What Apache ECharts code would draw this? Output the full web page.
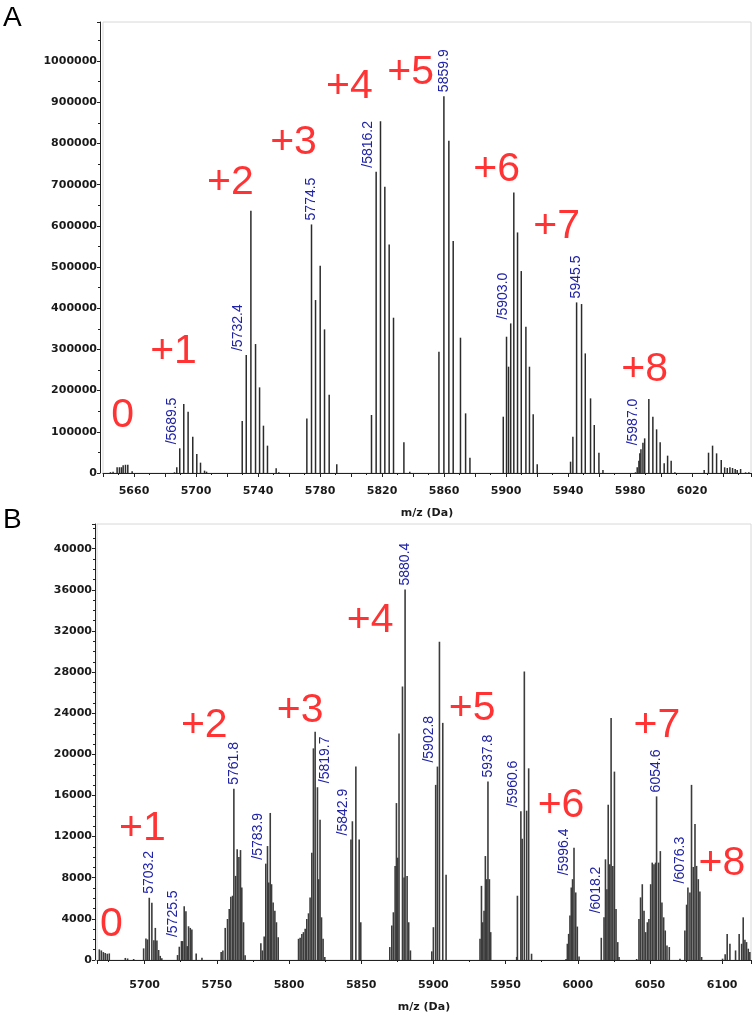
<!DOCTYPE html>
<html>
<head>
<meta charset="utf-8">
<script src="https://cdn.jsdelivr.net/npm/echarts@6/dist/echarts.min.js"></script>
<style>
  html, body { margin: 0; padding: 0; background: #fff; }
  #chart { width: 755px; height: 1014px; }
</style>
</head>
<body>
<div id="chart"></div>
<script>
// ---- panel A: stick spectrum (m/z, intensity) ----
const mzA = [
  5644.8, 5646.5, 5649.1, 5650.6, 5651.9, 5653.0, 5654.5, 5656.0, 5658.8,
  5686.1, 5687.6, 5689.5, 5692.1, 5694.9, 5697.9, 5700.5, 5702.9, 5705.5, 5706.8,
  5729.8, 5732.4, 5735.4, 5738.4, 5741.0, 5743.5, 5746.1, 5751.7, 5753.4,
  5771.5, 5774.5, 5777.1, 5780.1, 5782.9, 5785.9, 5790.8,
  5813.2, 5816.2, 5819.0, 5821.8, 5824.6, 5827.4, 5834.1, 5837.9,
  5856.7, 5859.9, 5863.1, 5865.9, 5870.6, 5873.9, 5876.7,
  5898.2, 5900.3, 5901.6, 5903.0, 5905.0, 5907.4, 5909.8, 5912.8, 5915.1, 5917.5, 5920.1,
  5941.6, 5943.1, 5945.5, 5948.7, 5951.1, 5954.5, 5956.9, 5959.9, 5962.5,
  5983.5, 5984.6, 5985.7, 5986.3, 5987.0, 5988.3, 5989.4, 5992.1, 5994.7, 5997.1, 5999.4, 6002.0, 6004.2, 6006.5, 6008.9,
  6027.8, 6030.6, 6033.2, 6035.8, 6038.8, 6041.0, 6042.7, 6044.4, 6046.1, 6047.8, 6049.1, 6051.3, 6054.5, 6056.6
];
const intA = [
  2000, 3000, 14000, 14000, 14000, 19000, 20000, 20000, 4000,
  1700, 13800, 59900, 167500, 148900, 88200, 46100, 25100, 5700, 3200,
  126200, 286400, 636700, 313100, 207900, 114900, 66400, 11300, 1600,
  132600, 603500, 419900, 503200, 348700, 190100, 21000,
  140800, 731400, 854300, 695000, 555000, 377000, 74400, 3200,
  294500, 915000, 806600, 563100, 328500, 144800, 37200,
  136700, 330900, 258100, 363200, 681200, 584100, 490300, 355200, 258100, 142400, 21000,
  27500, 88200, 414200, 410200, 290400, 181200, 116500, 49300, 7300,
  1700, 13800, 29900, 47700, 57400, 73600, 84100, 179600, 136700, 106000, 74400, 23500, 42100, 29900, 1700,
  7300, 49300, 66400, 47700, 31500, 13800, 12100, 13800, 12100, 9700, 7300, 9700, 1600, 1600
];
const peakMzA = [5689.5, 5732.4, 5774.5, 5816.2, 5859.9, 5903.0, 5945.5, 5987.0];
const leaderA = [-1, -1, 0, -1, 0, -1, 0, -1];
const chargeTextA = ['0', '+1', '+2', '+3', '+4', '+5', '+6', '+7', '+8'];
const chargeMzA = [5652.6, 5685.5, 5722.2, 5762.9, 5799.0, 5838.4, 5893.9, 5932.6, 5989.4];
const chargeIntA = [138300, 293700, 703800, 800900, 936800, 970800, 735400, 597000, 250000];

// ---- panel B ----
const mzB = [
  5668.6, 5670.0, 5671.4, 5672.7, 5674.1, 5675.5, 5686.6, 5688.2, 5692.4,
  5699.3, 5700.9, 5702.0, 5703.2, 5705.0, 5706.4, 5707.4, 5708.5, 5709.7, 5710.8, 5711.9,
  5722.8, 5724.0, 5725.5, 5726.3, 5727.4, 5728.6, 5729.5, 5730.4, 5731.6, 5732.7, 5735.7, 5739.7,
  5753.0, 5754.2, 5755.8, 5757.4, 5758.6, 5759.7, 5760.9, 5761.8, 5763.0, 5764.1, 5765.3, 5766.4, 5767.3, 5768.5, 5769.6,
  5780.5, 5781.6, 5782.8, 5783.9, 5785.1, 5786.0, 5787.0, 5787.9, 5789.0, 5790.2, 5791.3, 5792.5,
  5806.6, 5807.7, 5808.9, 5810.0, 5811.2, 5812.3, 5813.5, 5814.6, 5815.8, 5816.9, 5818.1, 5819.7, 5820.6, 5821.5, 5822.5, 5823.6, 5824.8,
  5842.9, 5843.9, 5846.3, 5848.6, 5849.7,
  5869.8, 5871.2, 5872.3, 5873.5, 5874.4, 5875.3, 5876.2, 5878.6, 5879.7, 5880.4, 5881.8, 5882.9, 5884.1,
  5898.9, 5900.0, 5901.6, 5902.8, 5904.2, 5906.5, 5908.8,
  5932.3, 5933.3, 5934.2, 5935.1, 5936.0, 5936.9, 5937.8, 5938.8, 5939.7,
  5957.7, 5958.2, 5960.6, 5961.5, 5963.0, 5964.6, 5966.0, 5968.0,
  5991.9, 5992.8, 5993.7, 5994.6, 5995.5, 5996.4, 5997.4, 5998.6, 5999.7, 6000.9,
  6016.3, 6018.2, 6019.2, 6020.2, 6021.1, 6022.2, 6023.1, 6024.3, 6025.4, 6026.5, 6027.7, 6028.6,
  6040.8, 6042.4, 6043.5, 6044.7, 6045.9, 6047.0, 6048.2, 6049.3, 6050.5, 6051.6, 6052.8, 6053.9, 6054.6, 6056.0, 6057.2, 6058.3, 6059.5, 6060.6, 6061.8, 6063.4,
  6070.8, 6074.2, 6075.4, 6076.3, 6077.7, 6078.8, 6080.0, 6081.2, 6082.3, 6083.5, 6084.6, 6085.8,
  6100.3, 6102.1, 6103.5, 6105.4, 6109.3, 6111.8, 6113.5, 6114.6, 6115.8, 6116.9, 6118.1, 6119.2
];
const intB = [
  1030, 930, 770, 680, 610, 640, 200, 150, 100,
  1130, 2100, 2000, 6050, 5570, 1930, 3120, 1900, 970, 400, 160,
  480, 1290, 1840, 1840, 5220, 4730, 1350, 3280, 3120, 2960, 640, 220,
  770, 930, 3120, 3990, 4960, 6150, 6250, 16650, 8180, 10760, 10010, 10690, 7050, 3670, 450,
  1640, 930, 2290, 9370, 11080, 7540, 14300, 7370, 5600, 4800, 3670, 2220,
  2060, 2160, 2540, 2710, 3030, 3990, 4540, 6090, 10430, 20580, 22190, 16800, 7860, 13650, 4150, 2060, 290,
  11720, 13490, 18810, 11720, 3670,
  1260, 3350, 4640, 9150, 15260, 9950, 22030, 26600, 8020, 36030, 8180, 3670, 930,
  840, 3190, 17030, 18810, 30940, 23060, 8280,
  2060, 7210, 3670, 4800, 10110, 7860, 17360, 7860, 2710,
  300, 6250, 14460, 11790, 28050, 14520, 18640, 610,
  100, 1580, 2540, 4320, 7050, 7860, 10920, 6570, 3250, 350,
  2160, 4150, 9790, 6890, 15100, 9310, 23540, 9150, 18320, 4960, 1740, 290,
  100, 3990, 6090, 7370, 4800, 2710, 3670, 3990, 7370, 9470, 9310, 9470, 15910, 9470, 10590, 5600, 4150, 2870, 1420, 1260,
  130, 2870, 5380, 7050, 6570, 17030, 9050, 13230, 9150, 7860, 6670, 290,
  130, 550, 2540, 1580, 930, 2540, 1580, 4150, 1960, 1740, 1100, 770
];
const peakMzB = [5703.2, 5725.5, 5761.8, 5783.9, 5819.7, 5842.9, 5880.4, 5902.8, 5937.8, 5960.6, 5996.4, 6018.2, 6054.6, 6076.3];
const leaderB = [0, -1, 0, -1, 1, -1, 0, -1, 0, -1, -1, -1, 0, -1];
const chargeTextB = ['0', '+1', '+2', '+3', '+4', '+5', '+6', '+7', '+8'];
const chargeMzB = [5676.9, 5698.4, 5741.3, 5807.7, 5856.2, 5926.8, 5988.4, 6054.8, 6099.8];
const chargeIntB = [3480, 12750, 22800, 24250, 33040, 24440, 14970, 22800, 9370];

const axisFont = { fontFamily: 'DejaVu Sans', fontSize: 11, fontWeight: 'bold', color: '#1a1a1a' };
const peakColor = '#1f22a6';

function sticks(mz, ints, peaks, leaders) {
  return mz.map((m, i) => {
    const k = peaks.indexOf(m);
    if (k < 0) return [m, ints[i]];
    const lead = leaders[k];
    return {
      value: [m, ints[i]],
      label: {
        show: true,
        formatter: (lead ? '/' : '') + m.toFixed(1),
        offset: [0, lead * 8]
      }
    };
  });
}

function charges(text, mz, ints) {
  return text.map((t, i) => ({ name: t, value: [mz[i], ints[i]] }));
}

const chart = echarts.init(document.getElementById('chart'), null, { renderer: 'canvas' });

const xAxisBase = {
  type: 'value',
  position: 'bottom',
  axisLine: { show: true, lineStyle: { color: '#222', width: 1 } },
  axisTick: { show: true, length: 4, lineStyle: { color: '#222' } },
  minorTick: { show: true, splitNumber: 2, length: 2, lineStyle: { color: '#222' } },
  splitLine: { show: false },
  name: 'm/z (Da)',
  nameLocation: 'middle',
  nameGap: 30,
  nameTextStyle: axisFont,
  axisLabel: Object.assign({ margin: 8, showMinLabel: false, showMaxLabel: false }, axisFont)
};

const yAxisBase = {
  type: 'value',
  min: 0,
  axisLine: { show: true, lineStyle: { color: '#222', width: 1 } },
  axisTick: { show: true, length: 3, lineStyle: { color: '#222' } },
  minorTick: { show: true, length: 2, lineStyle: { color: '#222' } },
  splitLine: { show: false },
  axisLabel: Object.assign({ margin: 3, showMaxLabel: false, formatter: (v) => String(v) }, axisFont)
};

const stickLabel = {
  show: false,
  position: 'top',
  distance: 4,
  rotate: 90,
  align: 'left',
  verticalAlign: 'middle',
  color: peakColor,
  fontFamily: 'Liberation Sans',
  fontSize: 14
};

const chargeLabel = {
  show: true,
  position: 'inside',
  formatter: '{b}',
  color: '#ff0000',
  fontFamily: 'Liberation Sans',
  fontSize: 41
};

chart.setOption({
  animation: false,
  backgroundColor: '#fff',
  graphic: [
    { type: 'text', left: 3, top: 4, style: { text: 'A', fontSize: 28, fontFamily: 'Liberation Sans', fill: '#000' } },
    { type: 'text', left: 3, top: 506, style: { text: 'B', fontSize: 28, fontFamily: 'Liberation Sans', fill: '#000' } }
  ],
  grid: [
    { left: 103, top: 22, width: 648, height: 451, show: true, borderColor: '#d8d8d8', borderWidth: 1 },
    { left: 97, top: 524, width: 654, height: 439, show: true, borderColor: '#d8d8d8', borderWidth: 1 }
  ],
  xAxis: [
    Object.assign({}, xAxisBase, {
      gridIndex: 0, min: 5640, max: 6058, interval: 20, offset: 5,
      axisLabel: Object.assign({}, xAxisBase.axisLabel, {
        formatter: (v) => (Math.round(v - 5660) % 40 === 0 ? String(Math.round(v)) : '')
      })
    }),
    Object.assign({}, xAxisBase, {
      gridIndex: 1, min: 5667, max: 6120, splitNumber: 9, offset: 12,
      axisLabel: Object.assign({}, xAxisBase.axisLabel, {
        formatter: (v) => (Math.round(v) % 50 === 0 ? String(Math.round(v)) : '')
      })
    })
  ],
  yAxis: [
    Object.assign({}, yAxisBase, {
      gridIndex: 0, max: 1095000, interval: 100000, offset: 3,
      minorTick: Object.assign({}, yAxisBase.minorTick, { splitNumber: 2 })
    }),
    Object.assign({}, yAxisBase, {
      gridIndex: 1, max: 42400, interval: 4000, offset: 2,
      minorTick: Object.assign({}, yAxisBase.minorTick, { splitNumber: 4 })
    })
  ],
  series: [
    {
      type: 'bar', xAxisIndex: 0, yAxisIndex: 0, barWidth: 1.5,
      itemStyle: { color: '#2b2b2b' },
      label: stickLabel,
      data: sticks(mzA, intA, peakMzA, leaderA)
    },
    {
      type: 'bar', xAxisIndex: 1, yAxisIndex: 1, barWidth: 1.6,
      itemStyle: { color: '#3c3c3c' },
      label: stickLabel,
      data: sticks(mzB, intB, peakMzB, leaderB)
    },
    {
      type: 'scatter', xAxisIndex: 0, yAxisIndex: 0, symbolSize: 1,
      itemStyle: { color: 'rgba(0,0,0,0)' },
      label: chargeLabel,
      data: charges(chargeTextA, chargeMzA, chargeIntA)
    },
    {
      type: 'scatter', xAxisIndex: 1, yAxisIndex: 1, symbolSize: 1,
      itemStyle: { color: 'rgba(0,0,0,0)' },
      label: chargeLabel,
      data: charges(chargeTextB, chargeMzB, chargeIntB)
    }
  ]
});
</script>
</body>
</html>
